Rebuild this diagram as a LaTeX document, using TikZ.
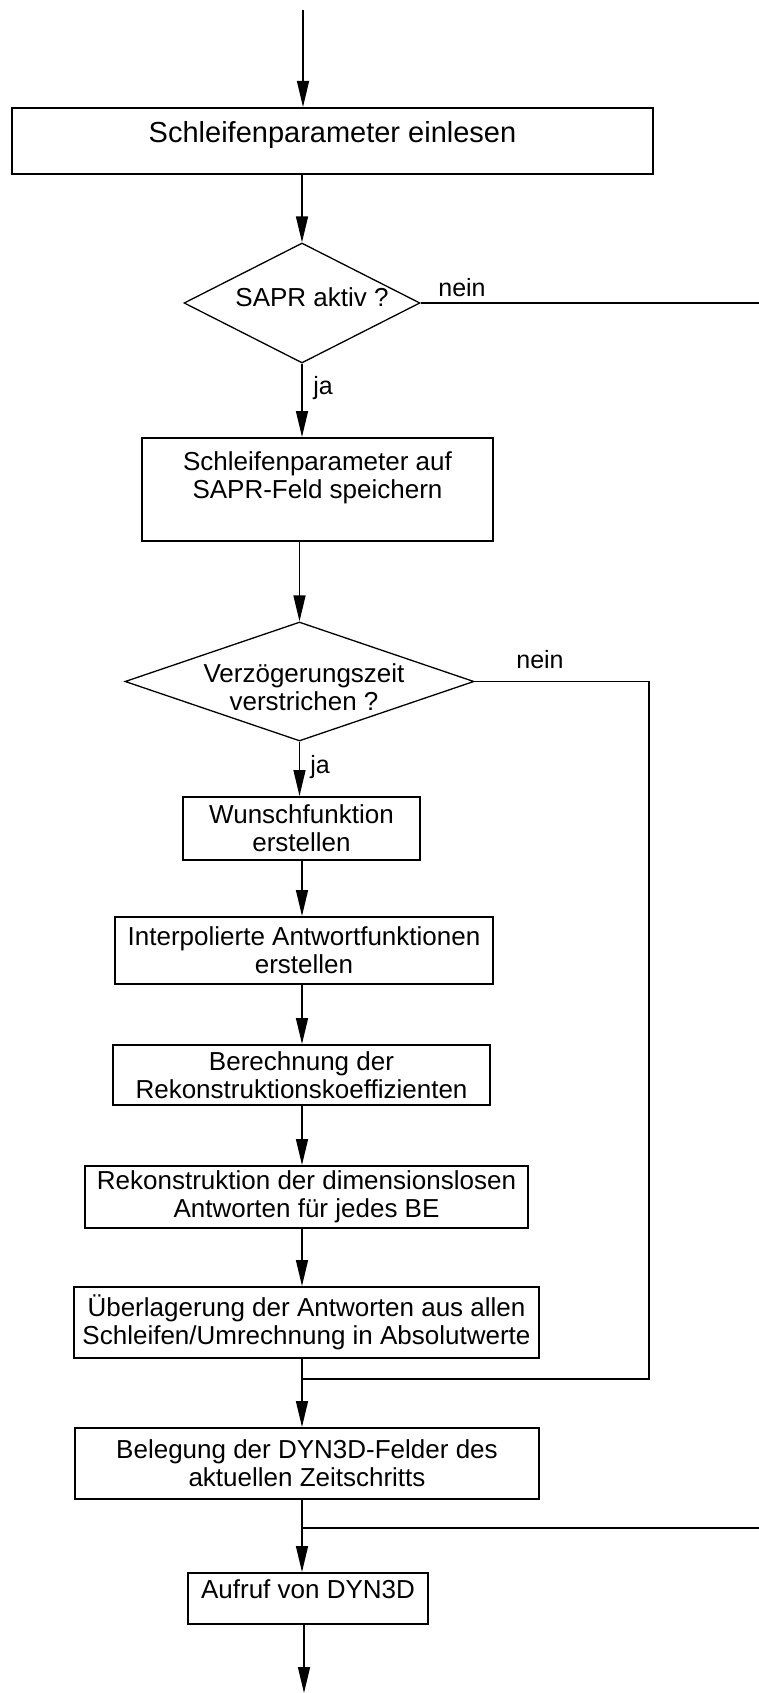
\documentclass[tikz,border=0pt]{standalone}
\usepackage{fontspec}
\setmainfont{Liberation Sans}
\usetikzlibrary{shapes.geometric,arrows.meta}
\begin{document}
\begin{tikzpicture}[x=1pt,y=-1pt,line width=1.5pt,
  every node/.style={font=\fontsize{26}{28}\selectfont,inner sep=0pt,align=center},
  box/.style={draw,line width=2pt},
  ask/.style={draw,diamond,line width=1.3pt},
  lbl/.style={font=\fontsize{25}{28}\selectfont},
  arr/.style={-{Triangle[length=26pt,width=12pt]}}]
\useasboundingbox (0,0) rectangle (759,1693);
\coordinate (top) at (303,10);
\coordinate (axis) at (302,0);
\coordinate (outA) at (759,303);
\coordinate (cornerB) at (649,681.5);
\coordinate (joinB) at (302,1379);
\coordinate (inA) at (759,1528);
\coordinate (joinA) at (302,1528);
\coordinate (bottom) at (304,1693);
% boxes and decisions
\node[box,minimum width=641,minimum height=66,text depth=19pt,font=\fontsize{29}{32}\selectfont] (einlesen) at (332.5,141) {Schleifenparameter einlesen};
\node[ask,minimum width=236,minimum height=120,label={[xshift=10pt,yshift=6pt]center:SAPR aktiv ?}] (sapr) at (302,303) {};
\node[box,minimum width=351,minimum height=103] (speichern) at (317.5,489.5) {Schleifenparameter auf\\SAPR-Feld speichern\\\mbox{}};
\node[ask,minimum width=349,minimum height=119,label={[xshift=4.5pt,yshift=-6pt]center:Verzögerungszeit\\verstrichen ?}] (verz) at (299.5,681.5) {};
\node[box,minimum width=237,minimum height=63] (wunsch) at (301.5,828.5) {Wunschfunktion\\erstellen};
\node[box,minimum width=378,minimum height=67] (interp) at (304,950.5) {Interpolierte Antwortfunktionen\\erstellen};
\node[box,minimum width=377,minimum height=60] (berech) at (301.5,1075) {Berechnung der\\Rekonstruktionskoeffizienten};
\node[box,minimum width=443,minimum height=62] (rekon) at (306.5,1197) {Rekonstruktion der dimensionslosen\\Antworten für jedes BE};
\node[box,minimum width=465,minimum height=71] (ueber) at (306.5,1322.5) {Überlagerung der Antworten aus allen\\Schleifen/Umrechnung in Absolutwerte};
\node[box,minimum width=464,minimum height=71] (belegung) at (307,1463.5) {Belegung der DYN3D-Felder des\\aktuellen Zeitschritts};
\node[box,minimum width=240,minimum height=51,text depth=18pt] (aufruf) at (308,1598.5) {Aufruf von DYN3D};
% labels
\node[lbl] (nein1) at (462,288) {nein};
\node[lbl] (ja1) at (323,388) {ja};
\node[lbl] (nein2) at (540,660) {nein};
\node[lbl] (ja2) at (320,767) {ja};
% connectors
\draw[arr] (top) -- (top |- einlesen.north);
\draw[arr] (einlesen.south -| sapr.north) -- (sapr.north);
\draw[arr] (sapr.south) -- (sapr.south |- speichern.north);
\draw (sapr.east) -- (outA);
\draw[arr] (speichern.south -| verz.north) -- (verz.north);
\draw[arr] (verz.south) -- (verz.south |- wunsch.north);
\draw (verz.east) -- (cornerB) |- (joinB);
\draw[arr] (wunsch.south -| axis) -- (interp.north -| axis);
\draw[arr] (interp.south -| axis) -- (berech.north -| axis);
\draw[arr] (berech.south -| axis) -- (rekon.north -| axis);
\draw[arr] (rekon.south -| axis) -- (ueber.north -| axis);
\draw[arr] (ueber.south -| axis) -- (belegung.north -| axis);
\draw[arr] (belegung.south -| axis) -- (aufruf.north -| axis);
\draw (inA) -- (joinA);
\draw[arr] (aufruf.south -| bottom) -- (bottom);
\end{tikzpicture}
\end{document}
